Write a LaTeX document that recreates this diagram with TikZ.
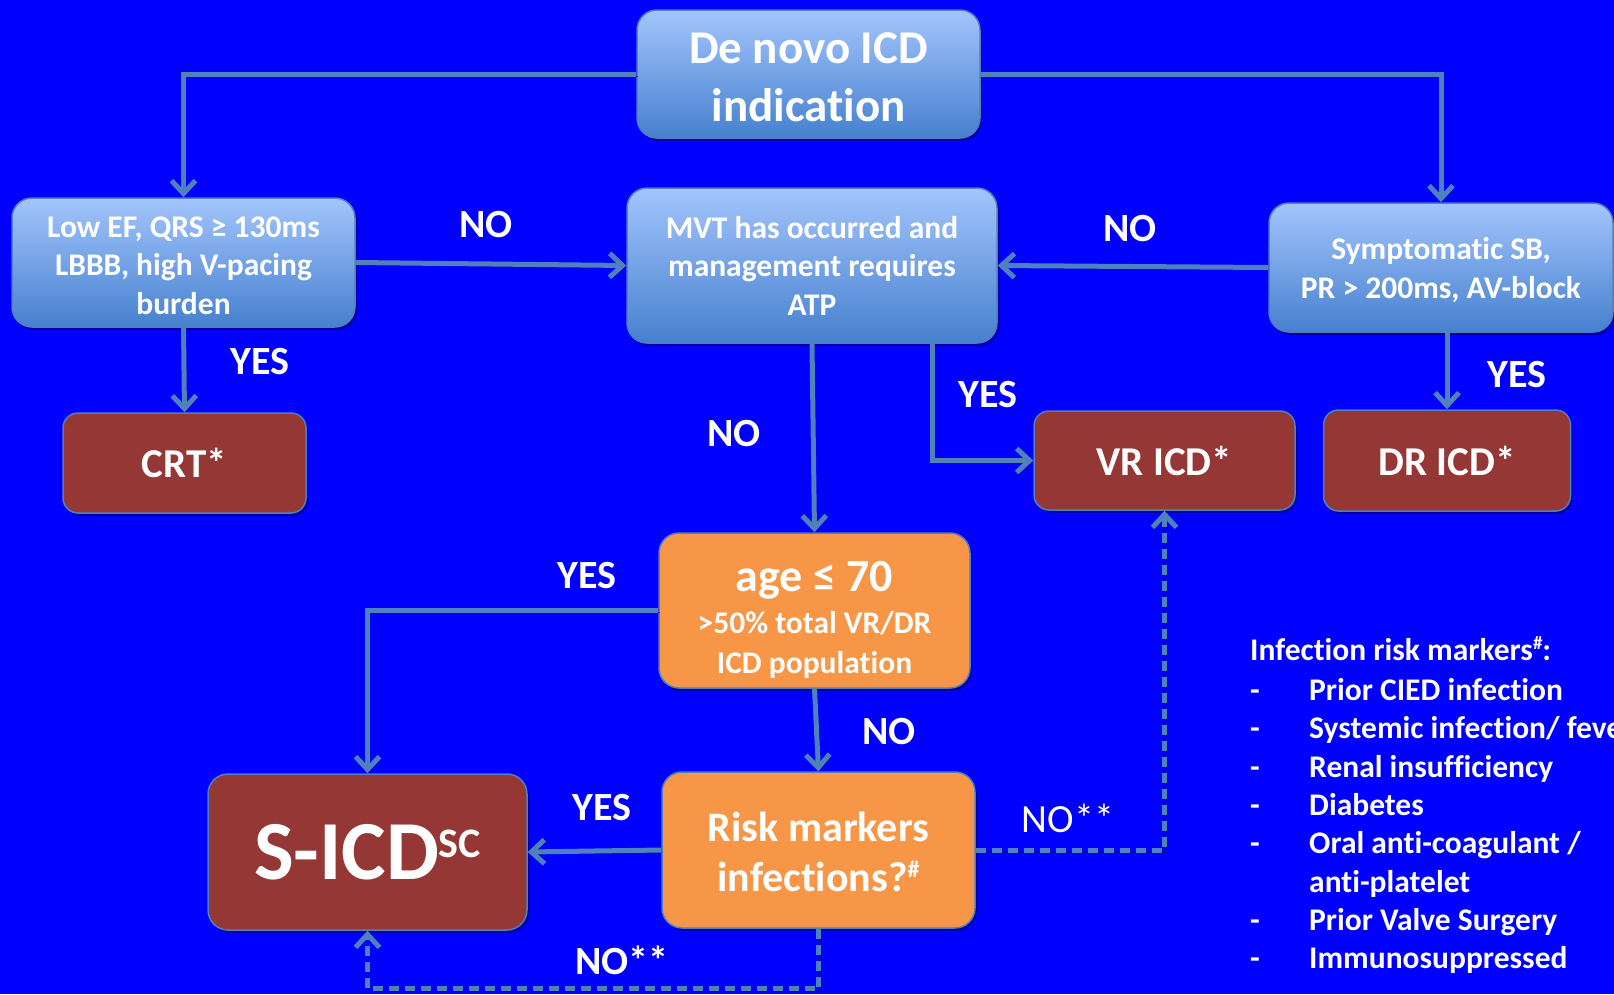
\documentclass[tikz,border=0pt]{standalone}
\usepackage{fontspec}
\setmainfont{Carlito}[Ligatures=NoCommon]
\usetikzlibrary{arrows.meta,shadows,calc}
\definecolor{bg}{HTML}{0000FF}
\definecolor{lnk}{HTML}{4F81BD}
\definecolor{lshadow}{HTML}{0000A0}
\definecolor{btop}{HTML}{A3C5FC}
\definecolor{bbot}{HTML}{4680CF}
\definecolor{dred}{HTML}{953735}
\definecolor{orng}{HTML}{F79646}
\begin{document}
\begin{tikzpicture}[x=1pt,y=1pt,
 box/.style={draw=lnk, line width=1.5pt, rounded corners=20pt, text=white, align=center, inner sep=0pt,
   font=\bfseries\fontsize{31.5}{38.5}\selectfont,
   drop shadow={shadow xshift=2pt,shadow yshift=-3pt,opacity=0.35,fill=black}},
 bluebox/.style={box, top color=btop, bottom color=bbot},
 redbox/.style={box, fill=dred, rounded corners=15pt, font=\bfseries\fontsize{41}{48}\selectfont},
 orbox/.style={box, fill=orng},
 link/.style={draw=lnk, line width=5pt, -{Straight Barb[length=13pt,width=24pt]},
   preaction={draw=lshadow, opacity=0.6, transform canvas={shift={(1.5pt,-2pt)}}}},
 dlink/.style={link, dash pattern=on 10pt off 6pt},
 lbl/.style={text=white, font=\bfseries\fontsize{40}{40}\selectfont, inner sep=0pt},
 lst/.style={text=white, font=\bfseries\fontsize{31.5}{38}\selectfont, inner sep=0pt, anchor=base west},
]
\fill[bg] (0,0) rectangle (1614,-994);
\useasboundingbox (0,0) rectangle (1614,-994);

% connectors (drawn first, boxes on top)
\coordinate (mvtyes) at (932,-343);

% boxes
\node[bluebox, minimum width=343pt, minimum height=128pt, font=\bfseries\fontsize{47}{58}\selectfont] (top) at (808.5,-74) {\rule{0pt}{38pt}De novo ICD\\indication};
\node[bluebox, minimum width=343pt, minimum height=129pt] (lowef) at (183.5,-262.5) {\rule{0pt}{27pt}Low EF, QRS ≥ 130ms\\LBBB, high V-pacing\\burden};
\node[bluebox, minimum width=370pt, minimum height=155pt] (mvt) at (812,-265.5) {MVT has occurred and\\management requires\\ATP};
\node[bluebox, minimum width=344pt, minimum height=129pt] (sympt) at (1441,-267.5) {\rule{0pt}{27pt}Symptomatic SB,\\PR > 200ms, AV-block};
\node[redbox, minimum width=243pt, minimum height=100pt] (crt) at (184.5,-463) {CRT*};
\node[redbox, minimum width=261pt, minimum height=99pt] (vr) at (1164.5,-460.5) {VR ICD*};
\node[redbox, minimum width=247pt, minimum height=101pt] (dr) at (1447,-460.5) {DR ICD*};
\node[orbox, minimum width=311pt, minimum height=155pt, font=\bfseries\fontsize{31.5}{40}\selectfont] (age) at (814.5,-610.5)
  {\rule{0pt}{48pt}\fontsize{46}{46}\selectfont age ≤ 70\\[2pt] >50\% total VR/DR\\ICD population};
\node[orbox, minimum width=313pt, minimum height=156pt, font=\bfseries\fontsize{42}{50}\selectfont] (risk) at (818.5,-850)
  {\rule{0pt}{33pt}Risk markers\\infections?\raisebox{14pt}{\fontsize{24}{24}\selectfont\#}};
\node[redbox, minimum width=319pt, minimum height=156pt, rounded corners=20pt, font=\bfseries\fontsize{84}{84}\selectfont] (sicd) at (367.5,-852)
  {S-ICD\raisebox{22pt}{\fontsize{42}{42}\selectfont SC}};

% connectors
\draw[link] (top.west) -| (lowef.north);
\draw[link] (top.east) -| (sympt.north);
\draw[link] (lowef.east) -- (mvt.west);
\draw[link] (sympt.west) -- (mvt.east);
\draw[link] (lowef.south) -- (crt.north);
\draw[link] (sympt.south -| dr.north) -- (dr.north);
\draw[link] (mvt.south) -- (age.north);
\draw[link] (mvt.south -| mvtyes) |- (vr.west);
\draw[link] (age.west) -| (sicd.north);
\draw[link] (age.south) -- (risk.north);
\draw[link] (risk.west) -- (sicd.east);
\draw[dlink] (risk.south) -- ++(0,-60) -| (sicd.south);
\draw[dlink] (risk.east) -| (vr.south);

% labels
\node[lbl] (n1) at (486,-225) {NO};
\node[lbl] (n2) at (1130,-229) {NO};
\node[lbl] (y1) at (260,-362) {YES};
\node[lbl] (y2) at (1517,-375) {YES};
\node[lbl] (y3) at (988,-395) {YES};
\node[lbl] (n3) at (734,-434) {NO};
\node[lbl] (y4) at (587,-576) {YES};
\node[lbl] (n4) at (889,-732) {NO};
\node[lbl] (y5) at (602,-808) {YES};
\node[lbl] (n5) at (622,-960) {NO**};
\node[lbl, font=\fontsize{40}{40}\selectfont] (n6) at (1068,-818) {NO**};

% infection risk markers list
\node[lst] (hdr) at (1250,-660) {Infection risk markers\raisebox{11pt}{\fontsize{19}{19}\selectfont\#}:};
\node[lst] (d1) at (1250,-700) {-};
\node[lst] (i1) at (1309,-700) {Prior CIED infection};
\node[lst] (d2) at (1250,-738) {-};
\node[lst] (i2) at (1309,-738) {Systemic infection/ fever};
\node[lst] (d3) at (1250,-777) {-};
\node[lst] (i3) at (1309,-777) {Renal insufficiency};
\node[lst] (d4) at (1250,-815) {-};
\node[lst] (i4) at (1309,-815) {Diabetes};
\node[lst] (d5) at (1250,-853) {-};
\node[lst] (i5) at (1309,-853) {Oral anti-coagulant /};
\node[lst] (i6) at (1309,-892) {anti-platelet};
\node[lst] (d7) at (1250,-930) {-};
\node[lst] (i7) at (1309,-930) {Prior Valve Surgery};
\node[lst] (d8) at (1250,-968) {-};
\node[lst] (i8) at (1309,-968) {Immunosuppressed};
\end{tikzpicture}
\end{document}
